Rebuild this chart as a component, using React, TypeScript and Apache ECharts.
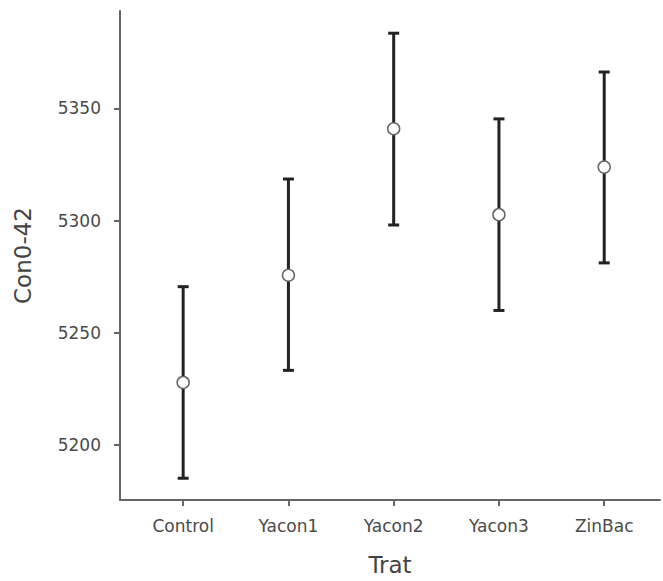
import React, { useEffect, useRef } from "react";
import * as echarts from "echarts";

const categories = ["Control", "Yacon1", "Yacon2", "Yacon3", "ZinBac"];
const means = [5227.8, 5275.6, 5340.9, 5302.6, 5323.8];
const lowers = [5185.1, 5233.2, 5298.0, 5259.9, 5281.1];
const uppers = [5270.5, 5318.5, 5383.5, 5345.3, 5366.2];
const yTicks = [5200, 5250, 5300, 5350];
const xTicks = [1, 2, 3, 4, 5];

const FONT = "DejaVu Sans";

export default function App() {
  const ref = useRef<HTMLDivElement>(null);
  useEffect(() => {
    if (!ref.current) return;
    const chart = echarts.init(ref.current, null, { renderer: "svg" });
    const errData = categories.map((_, i) => [i + 1, lowers[i], uppers[i]]);
    const meanData = categories.map((_, i) => [i + 1, means[i]]);
    chart.setOption({
      animation: false,
      backgroundColor: "#ffffff",
      grid: { left: 120, top: 11, right: 3, bottom: 80, containLabel: false },
      xAxis: {
        type: "value",
        min: 0.4,
        max: 5.53,
        name: "Trat",
        nameLocation: "middle",
        nameGap: 53,
        nameTextStyle: { fontFamily: FONT, fontSize: 23, color: "#444" },
        splitLine: { show: false },
        axisLine: { show: true, lineStyle: { color: "#666", width: 2 } },
        axisTick: {
          show: true,
          length: 6,
          lineStyle: { color: "#666", width: 2 },
          customValues: xTicks,
        },
        axisLabel: {
          customValues: xTicks,
          margin: 17,
          fontFamily: FONT,
          fontSize: 17,
          color: "#4a4a4a",
          formatter: (v: number) => categories[Math.round(v) - 1] ?? "",
        },
      },
      yAxis: {
        type: "value",
        min: 5175.4,
        max: 5393.4,
        name: "Con0-42",
        nameLocation: "middle",
        nameGap: 86,
        nameTextStyle: { fontFamily: FONT, fontSize: 23, color: "#444" },
        splitLine: { show: false },
        axisLine: { show: true, lineStyle: { color: "#666", width: 2 } },
        axisTick: {
          show: true,
          length: 6,
          lineStyle: { color: "#666", width: 2 },
          customValues: yTicks,
        },
        axisLabel: {
          customValues: yTicks,
          margin: 19,
          fontFamily: FONT,
          fontSize: 17,
          color: "#4a4a4a",
          formatter: (v: number) => String(Math.round(v)),
        },
      },
      series: [
        {
          type: "custom",
          data: errData,
          encode: { x: 0, y: [1, 2] },
          renderItem: (params: any, api: any) => {
            const x = api.value(0);
            const lo = api.coord([x, api.value(1)]);
            const hi = api.coord([x, api.value(2)]);
            const hw = 5.5;
            const style = { stroke: "#222", lineWidth: 3 };
            return {
              type: "group",
              children: [
                { type: "line", shape: { x1: lo[0], y1: lo[1], x2: hi[0], y2: hi[1] }, style },
                { type: "line", shape: { x1: lo[0] - hw, y1: lo[1], x2: lo[0] + hw, y2: lo[1] }, style },
                { type: "line", shape: { x1: hi[0] - hw, y1: hi[1], x2: hi[0] + hw, y2: hi[1] }, style },
              ],
            };
          },
          z: 2,
        },
        {
          type: "scatter",
          data: meanData,
          symbol: "circle",
          symbolSize: 12,
          itemStyle: { color: "#ffffff", borderColor: "#666", borderWidth: 1.5, opacity: 1 },
          z: 3,
        },
      ],
    });
    return () => chart.dispose();
  }, []);
  return <div ref={ref} style={{ width: 663, height: 581, position: "absolute", left: 0, top: 0 }} />;
}
